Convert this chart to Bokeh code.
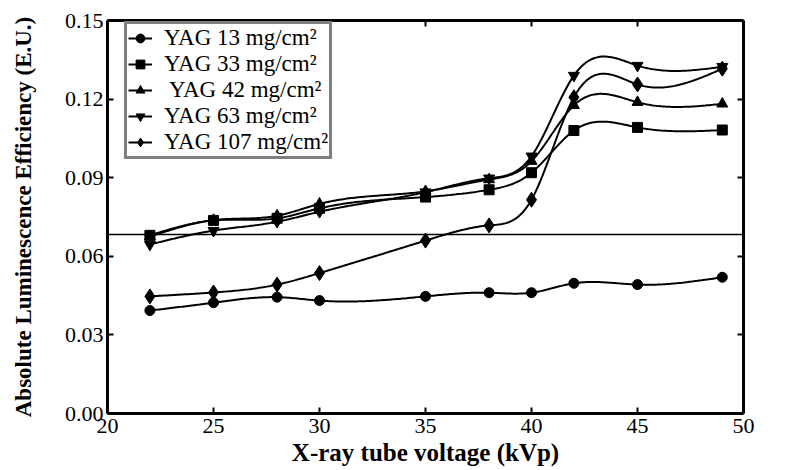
import numpy as np
from bokeh.plotting import figure
from bokeh.models import (LinearAxis, FixedTicker, NumeralTickFormatter, Legend,
                          LegendItem, BoxAnnotation, Range1d)
from bokeh.embed import file_html
from bokeh.resources import INLINE

# ---- data ----
kvp = [22, 25, 28, 30, 35, 38, 40, 42, 45, 49]
yag13 = [0.0393, 0.0423, 0.0444, 0.0431, 0.0447, 0.0461, 0.0461, 0.0497, 0.0492, 0.0520]
yag33 = [0.0680, 0.0737, 0.0745, 0.0783, 0.0826, 0.0854, 0.0919, 0.1080, 0.1092, 0.1082]
yag42 = [0.0675, 0.0738, 0.0755, 0.0800, 0.0848, 0.0893, 0.0963, 0.1176, 0.1188, 0.1182]
yag63 = [0.0645, 0.0698, 0.0732, 0.0770, 0.0845, 0.0898, 0.0982, 0.1290, 0.1328, 0.1324]
yag107 = [0.0447, 0.0462, 0.0492, 0.0536, 0.0660, 0.0718, 0.0816, 0.1207, 0.1256, 0.1316]
series_labels = ["YAG 13 mg/cm²", "YAG 33 mg/cm²", " YAG 42 mg/cm²", "YAG 63 mg/cm²", "YAG 107 mg/cm²"]
x_ticks = [20, 25, 30, 35, 40, 45, 50]
y_ticks = [0.00, 0.03, 0.06, 0.09, 0.12, 0.15]
stray_line_y = 0.0683  # horizontal scan line crossing the whole image

FONT = "'Liberation Serif', 'Times New Roman', serif"


def natural_spline(x, y, n=300):
    """Smooth connecting curve through the measured points (natural cubic spline)."""
    x = np.asarray(x, float)
    y = np.asarray(y, float)
    m = len(x)
    h = np.diff(x)
    A = np.zeros((m, m))
    b = np.zeros(m)
    A[0, 0] = 1
    A[-1, -1] = 1
    for i in range(1, m - 1):
        A[i, i - 1] = h[i - 1]
        A[i, i] = 2 * (h[i - 1] + h[i])
        A[i, i + 1] = h[i]
        b[i] = 3 * ((y[i + 1] - y[i]) / h[i] - (y[i] - y[i - 1]) / h[i - 1])
    c = np.linalg.solve(A, b)
    xs = np.linspace(x[0], x[-1], n)
    idx = np.clip(np.searchsorted(x, xs) - 1, 0, m - 2)
    dx = xs - x[idx]
    bc = (y[1:] - y[:-1]) / h - h * (2 * c[:-1] + c[1:]) / 3
    dc = (c[1:] - c[:-1]) / (3 * h)
    ys = y[idx] + bc[idx] * dx + c[idx] * dx ** 2 + dc[idx] * dx ** 3
    return xs, ys


p = figure(width=807, height=470, output_backend="svg", toolbar_location=None,
           x_range=Range1d(20, 50), y_range=Range1d(0, 0.15),
           min_border_left=107, min_border_right=64, min_border_top=20, min_border_bottom=57,
           x_axis_label="X-ray tube voltage (kVp)",
           y_axis_label="Absolute Luminescence Efficiency (E.U.)")
p.outline_line_color = None
p.xgrid.visible = False
p.ygrid.visible = False
p.background_fill_color = "white"
p.border_fill_color = "white"

for ax in (p.xaxis[0], p.yaxis[0]):
    ax.axis_line_width = 3
    ax.axis_line_color = "black"
    ax.major_tick_in = 6
    ax.major_tick_out = 0
    ax.major_tick_line_width = 2
    ax.minor_tick_line_color = None
    ax.major_label_text_font = FONT
    ax.major_label_text_font_size = "22px"
    ax.major_label_text_color = "black"
    ax.axis_label_text_font = FONT
    ax.axis_label_text_font_style = "bold"
    ax.axis_label_text_color = "black"

p.xaxis[0].axis_label_text_font_size = "25px"
p.yaxis[0].axis_label_text_font_size = "23px"
p.xaxis[0].ticker = FixedTicker(ticks=x_ticks)
p.yaxis[0].ticker = FixedTicker(ticks=y_ticks)
p.yaxis[0].formatter = NumeralTickFormatter(format="0.00")
p.xaxis[0].major_label_standoff = 5
p.xaxis[0].axis_label_standoff = 3
p.yaxis[0].major_label_standoff = 4
p.yaxis[0].axis_label_standoff = 26

top = LinearAxis(ticker=FixedTicker(ticks=x_ticks), axis_line_width=3, major_tick_in=6,
                 major_tick_out=0, major_tick_line_width=2, minor_tick_line_color=None,
                 major_label_overrides={t: "" for t in x_ticks}, major_label_text_font_size="1px")
right = LinearAxis(ticker=FixedTicker(ticks=y_ticks), axis_line_width=3, major_tick_in=6,
                   major_tick_out=0, major_tick_line_width=2, minor_tick_line_color=None,
                   major_label_standoff=60,
                   major_label_overrides={t: "" for t in y_ticks}, major_label_text_font_size="1px")
p.add_layout(top, "above")
p.add_layout(right, "right")

all_series = [yag13, yag33, yag42, yag63, yag107]
markers = ["circle", "square", "triangle", "inverted_triangle", "diamond"]
sizes = [10, 10, 11, 11, 15]
items = []
for ys, mk, sz, lab in zip(all_series, markers, sizes, series_labels):
    sx, sy = natural_spline(kvp, ys)
    r_line = p.line(sx, sy, line_color="black", line_width=2)
    r_pts = p.scatter(kvp, ys, marker=mk, size=sz, fill_color="black", line_color="black")
    items.append(LegendItem(label=lab, renderers=[r_line, r_pts]))

legend = Legend(items=items, location=(17, 254))
legend.label_text_font = FONT
legend.label_text_font_size = "23px"
legend.label_text_color = "black"
legend.border_line_color = "black"
legend.border_line_width = 3
legend.background_fill_color = "white"
legend.background_fill_alpha = 1
legend.glyph_width = 24
legend.glyph_height = 22
legend.label_height = 22
legend.spacing = 0
legend.padding = 1
legend.margin = 0
legend.label_standoff = 12
p.add_layout(legend, "center")

stray = BoxAnnotation(left=10, right=3000, left_units="canvas", right_units="canvas",
                      bottom=stray_line_y - 0.0003, top=stray_line_y + 0.0003,
                      fill_color="black", fill_alpha=1, line_color=None, level="overlay")
p.add_layout(stray)

open("out.html", "w").write(file_html(p, INLINE))
